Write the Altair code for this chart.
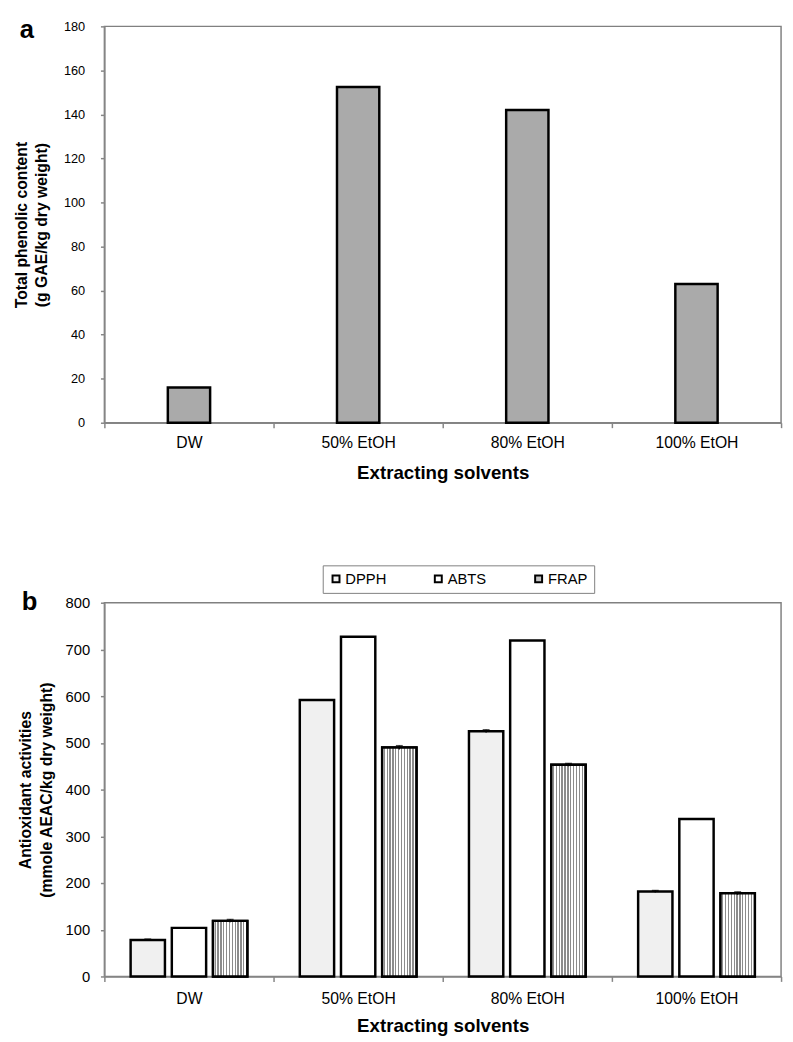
import altair as alt
import pandas as pd

# ---------------- data ----------------
solvents = ["DW", "50% EtOH", "80% EtOH", "100% EtOH"]
tpc = [16.0, 152.5, 142.0, 63.0]

assays = ["DPPH", "ABTS", "FRAP"]
dpph = [78, 592, 525, 182]
abts = [104, 727, 719, 337]
frap = [119, 490, 453, 178]
dpph_err = [2, 0, 3, 2]
abts_err = [0, 0, 0, 0]
frap_err = [3, 4, 3, 3]

y_ticks_a = [0, 20, 40, 60, 80, 100, 120, 140, 160, 180]
y_ticks_b = [0, 100, 200, 300, 400, 500, 600, 700, 800]

panel_a_label = ["a"]
panel_b_label = ["b"]

FONT = "Liberation Sans, Arial, Helvetica, sans-serif"

df_a = pd.DataFrame({"solvent": solvents, "tpc": tpc})

rows = []
for name, vals, errs in [("DPPH", dpph, dpph_err), ("ABTS", abts, abts_err), ("FRAP", frap, frap_err)]:
    for s, v, e in zip(solvents, vals, errs):
        rows.append({"solvent": s, "assay": name, "value": v, "err": e, "lo": v - e, "hi": v + e})
df_b = pd.DataFrame(rows)

# ---------------- shared axis pieces ----------------
def x_def(label_pad, title_pad):
    return alt.X(
        "solvent:N", sort=solvents,
        scale=alt.Scale(paddingInner=0, paddingOuter=0),
        axis=alt.Axis(title="Extracting solvents", labelAngle=0, tickBand="extent",
                      tickSize=5, labelPadding=label_pad, labelFontSize=16,
                      titleFontSize=19, titleFontWeight="bold", titlePadding=title_pad),
    )

def y_b(field):
    return alt.Y(
        field, scale=alt.Scale(domain=[0, 800], nice=False),
        axis=alt.Axis(values=y_ticks_b, title=["Antioxidant activities", "(mmole AEAC/kg dry weight)"],
                      tickSize=4, labelPadding=11, labelFontSize=15,
                      titleFontSize=16, titleFontWeight="bold", titlePadding=11, titleLineHeight=21),
    )

def panel_letter(letter, xpos, ypos, baseline):
    return alt.Chart(pd.DataFrame({"panel": letter})).mark_text(
        fontSize=26, fontWeight="bold", font=FONT, align="left", baseline=baseline, color="black"
    ).encode(text="panel:N", x=alt.value(xpos), y=alt.value(ypos))

# ---------------- panel a ----------------
bars_a = alt.Chart(df_a).mark_bar(
    width=alt.RelativeBandSize(0.25), fill="#aaaaaa", stroke="black", strokeWidth=2.5
).encode(
    x=x_def(7, 14),
    y=alt.Y("tpc:Q", scale=alt.Scale(domain=[0, 180], nice=False),
            axis=alt.Axis(values=y_ticks_a, title=["Total phenolic content", "(g GAE/kg dry weight)"],
                          tickSize=4, labelPadding=16, labelFontSize=13,
                          titleFontSize=16, titleFontWeight="bold", titlePadding=14, titleLineHeight=21)),
)

panel_a = alt.layer(bars_a, panel_letter(panel_a_label, -86, 12, "alphabetic")).properties(width=688, height=403)

# ---------------- panel b ----------------
stops = []
n = 12
for i in range(n):
    a = i / n
    m = (i + 0.55) / n
    b = (i + 1) / n
    stops += [
        alt.GradientStop(offset=a, color="#ffffff"),
        alt.GradientStop(offset=m, color="#ffffff"),
        alt.GradientStop(offset=m, color="#8c8c8c"),
        alt.GradientStop(offset=b, color="#8c8c8c"),
    ]
stripes = alt.LinearGradient(gradient="linear", stops=stops, x1=0, x2=1, y1=0, y2=0)

xoff = alt.XOffset("assay:N", sort=assays,
                   scale=alt.Scale(domain=assays, paddingInner=0.167, paddingOuter=0.637))

base = alt.Chart(df_b).encode(x=x_def(9, 11), xOffset=xoff, y=y_b("value:Q"))

bars = base.mark_bar(stroke="black", strokeWidth=2.5).encode(
    fill=alt.Fill("assay:N", sort=assays,
                  scale=alt.Scale(domain=assays, range=["#f0f0f0", "#ffffff", "#c4c4c4"]),
                  legend=alt.Legend(title=None, orient="none", legendX=222, legendY=-38,
                                    direction="horizontal", columns=3,
                                    symbolType="square", symbolSize=50,
                                    symbolStrokeColor="black", symbolStrokeWidth=2,
                                    labelFontSize=15, labelFont=FONT, labelColor="black",
                                    labelOffset=2, strokeColor="#808080", padding=6,
                                    columnPadding=44))
)

frap_bars = base.transform_filter(alt.datum.assay == "FRAP").mark_bar(
    fill=stripes, stroke="black", strokeWidth=2.5
)

err_rule = base.transform_filter(alt.datum.err > 0).mark_rule(
    color="black", strokeWidth=1.5
).encode(y=y_b("lo:Q"), y2="hi:Q")

err_cap = base.transform_filter(alt.datum.err > 0).mark_tick(
    color="black", thickness=1.5, size=7
).encode(y=y_b("hi:Q"))

panel_b = alt.layer(bars, frap_bars, err_rule, err_cap,
                    panel_letter(panel_b_label, -84, 7, "alphabetic")).properties(width=688, height=380)

chart = alt.vconcat(panel_a, panel_b, spacing=81).resolve_legend(
    fill="independent"
).properties(
    padding={"left": 4, "top": 0, "right": 2, "bottom": 0}
).configure_view(
    stroke="#808080", strokeWidth=1.5
).configure_axis(
    domainColor="#868686", domainWidth=1.5, tickColor="#868686", tickWidth=1.5,
    labelColor="black", titleColor="black", labelFont=FONT, titleFont=FONT, grid=False,
)

chart.save("out.html", embed_options={"renderer": "svg", "actions": False})
